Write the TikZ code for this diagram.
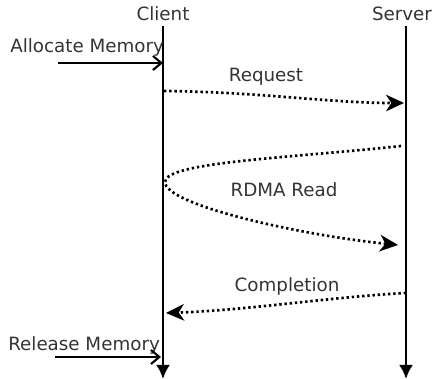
\documentclass[tikz,border=0pt]{standalone}
\usepackage{fontspec}
\setmainfont{DejaVu Sans}
\usetikzlibrary{arrows.meta}
\tikzset{
    lifeline/.style={line width=1.9pt, -{Latex[length=10pt,width=10pt]}},
    callarrow/.style={line width=1.5pt, -{Straight Barb[length=6pt,width=10pt,line width=1.5pt]}},
    msgarrow/.style={line width=1.9pt, dash pattern=on 1.7pt off 2pt,
        -{Stealth[length=13pt,width=12pt,inset=4pt,line width=0pt]}},
    lbl/.style={anchor=base, inner sep=0pt, text=black!80, font=\fontsize{13}{15}\selectfont}
}
\begin{document}
\begin{tikzpicture}[x=0.025cm, y=-0.025cm]
    \useasboundingbox (0,0) rectangle (435,379);
    % lifelines
    \node [lbl] (client) at (163,21) {Client};
    \node [lbl] (server) at (402,21) {Server};
    \coordinate (ctop) at (163,26);
    \coordinate (cbot) at (163,379);
    \coordinate (stop) at (406,26);
    \coordinate (sbot) at (406,379);
    \draw [lifeline] (ctop) -- (cbot);
    \draw [lifeline] (stop) -- (sbot);
    % allocate / release
    \node [lbl, anchor=base west] (alloc) at (10,53) {Allocate Memory};
    \coordinate (allocin) at (58,63);
    \coordinate (allocat) at (163,63);
    \draw [callarrow] (allocin) -- (allocat);
    \node [lbl, anchor=base west] (release) at (8,351) {Release Memory};
    \coordinate (relin) at (55,357);
    \coordinate (relat) at (161,357);
    \draw [callarrow] (relin) -- (relat);
    % request
    \node [lbl] (req) at (266,82) {Request};
    \coordinate (reqfrom) at (164,91);
    \coordinate (reqto) at (404,103);
    \draw [msgarrow] (reqfrom) .. controls (260,92) and (330,103) .. (reqto);
    % rdma read
    \node [lbl] (rdma) at (284,197) {RDMA Read};
    \coordinate (rdfrom) at (401,146);
    \coordinate (rdturn) at (165,182);
    \coordinate (rdto) at (398,245);
    \draw [msgarrow] (rdfrom) .. controls (290,158) and (165,162) .. (rdturn)
        .. controls (165,205) and (300,235) .. (rdto);
    % completion
    \node [lbl] (compl) at (287,292) {Completion};
    \coordinate (cpfrom) at (406,293);
    \coordinate (cpto) at (166,313);
    \draw [msgarrow] (cpfrom) .. controls (330,297) and (250,310) .. (cpto);
\end{tikzpicture}
\end{document}
